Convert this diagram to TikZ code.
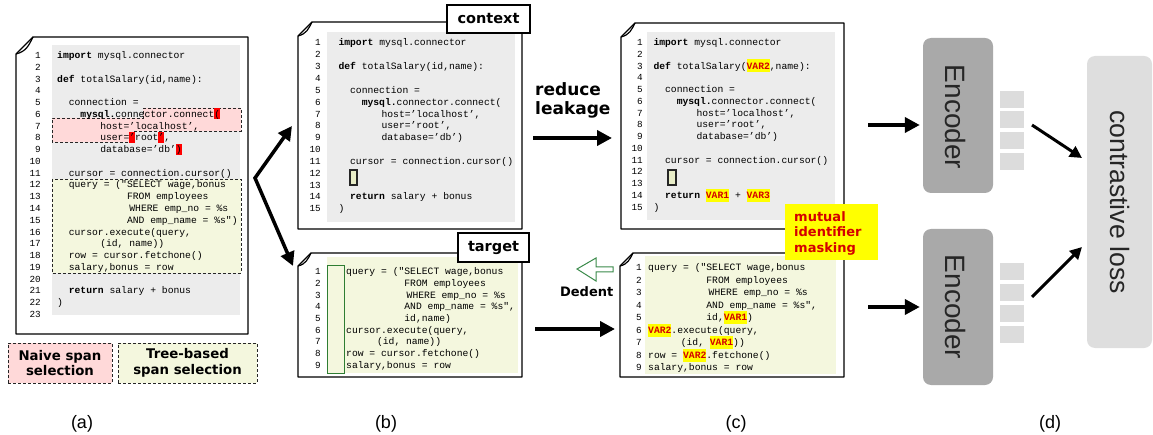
\documentclass[tikz,border=0pt]{standalone}
\usepackage{fontspec}
\usetikzlibrary{arrows.meta}
\newfontfamily\codefont{Liberation Mono}
\newfontfamily\dvs{DejaVu Sans}
\newfontfamily\lsans{Liberation Sans}
\definecolor{codebg}{HTML}{ECECEC}
\definecolor{naivefill}{HTML}{FFD9D9}
\definecolor{treefill}{HTML}{F4F7DE}
\definecolor{hired}{HTML}{FF0000}
\definecolor{hiyel}{HTML}{FFFF00}
\definecolor{varred}{HTML}{D40000}
\definecolor{greenline}{HTML}{2E7D32}
\definecolor{dedentgreen}{HTML}{3A8A4A}
\definecolor{encgray}{HTML}{A9A9A9}
\definecolor{enctxt}{HTML}{262626}
\definecolor{sqgray}{HTML}{DCDCDC}
\definecolor{lossgray}{HTML}{DEDEDE}
\definecolor{smallfill}{HTML}{E9EEC8}
\newcommand\hlr[1]{{\setlength{\fboxsep}{0pt}\colorbox{hired}{\rule[-2pt]{0pt}{11pt}#1}}}
\newcommand\hv[1]{{\setlength{\fboxsep}{0pt}\colorbox{hiyel}{\rule[-3.3pt]{0pt}{13pt}\textcolor{varred}{\bfseries #1}}}}
\newcommand\cw{5.82}
\newcommand\cl[3]{\node[code] (c\bname-#1) at ({\bx+#2*\cw},{\by+(#1-1)*\bdy}) {#3};}
\newcommand\docshape[5]{%
  \fill[white] ({#1+#5},#2) -- (#3,#2) -- (#3,#4) -- (#1,#4) -- (#1,{#2+#5}) -- cycle;
  \draw[docline] ({#1+#5},#2) -- (#3,#2) -- (#3,#4) -- (#1,#4) -- (#1,{#2+#5}) -- cycle;
  \draw[docline] (#1,{#2+#5}) .. controls ({#1+0.6*#5},{#2+0.85*#5}) and ({#1+0.75*#5},{#2+0.5*#5}) .. ({#1+#5},#2);}
\begin{document}
\begin{tikzpicture}[x=1pt,y=-1pt,
  docline/.style={line width=1.2pt, draw=black, line join=round},
  code/.style={anchor=base west, inner sep=0pt, font=\codefont\fontsize{9.7}{11}\selectfont},
  lnum/.style={anchor=base east, inner sep=0pt, font=\codefont\fontsize{9.3}{10}\selectfont},
  dashbox/.style={draw=black!85, line width=0.9pt, dash pattern=on 3pt off 2pt},
  legend/.style={dashbox, minimum height=40pt, inner sep=0pt, align=center,
    font=\dvs\bfseries\fontsize{13.3}{15.5}\selectfont},
  tagbox/.style={draw=black, fill=white, line width=1.2pt, inner sep=0pt,
    font=\dvs\bfseries\fontsize{14.5}{16}\selectfont},
  boldlab/.style={inner sep=0pt, font=\dvs\bfseries\fontsize{13}{15.5}\selectfont},
  bigarrow/.style={line width=3.8pt, -{Triangle[length=15pt,width=15pt]}},
  midarrow/.style={line width=3pt, -{Triangle[length=12pt,width=12pt]}},
  encbox/.style={fill=encgray, rounded corners=8pt, minimum width=70pt, inner sep=0pt},
  enctext/.style={text=enctxt, inner sep=0pt, font=\lsans\fontsize{28}{30}\selectfont},
  sq/.style={fill=sqgray, minimum width=24pt, minimum height=17pt, inner sep=0pt},
  panel/.style={inner sep=0pt, anchor=base, font=\lsans\fontsize{18}{20}\selectfont}
]
\useasboundingbox (0,0) rectangle (1153,435);

% ================= (a) =================
\docshape{16}{37}{248}{334}{17}
\fill[codebg] (52,45) rectangle (240,315);
\fill[naivefill] (143,108) -- (241,108) -- (241,131) -- (134,131) -- (134,142) -- (52,142) -- (52,118) -- (143,118) -- cycle;
\draw[dashbox] (143,108) -- (241,108) -- (241,131) -- (134,131) -- (134,142) -- (52,142) -- (52,118) -- (143,118) -- cycle;
\fill[treefill] (52,179) rectangle (241,273);
\draw[dashbox] (52,179) rectangle (241,273);
\def\bname{a}\def\bx{57}\def\by{58.5}\def\bdy{11.77}
\foreach \i in {1,...,23} {\node[lnum] (na-\i) at (41,{58.5+(\i-1)*11.77}) {\i};}
\cl{1}{0}{\textbf{import} mysql.connector}
\cl{3}{0}{\textbf{def} totalSalary(id,name):}
\cl{5}{2}{connection =}
\cl{6}{4}{\textbf{mysql.}connector.connect\hlr{(}}
\cl{7}{7.4}{host=’localhost’,}
\cl{8}{7.4}{user=\hlr{’}root\hlr{’},}
\cl{9}{7.4}{database=’db’\hlr{)}}
\cl{11}{2}{cursor = connection.cursor()}
\cl{12}{2}{query = ("SELECT wage,bonus}
\cl{13}{12}{FROM employees}
\cl{14}{12.4}{WHERE emp\_no = \%s}
\cl{15}{12}{AND emp\_name = \%s")}
\cl{16}{2}{cursor.execute(query,}
\cl{17}{7.4}{(id, name))}
\cl{18}{2}{row = cursor.fetchone()}
\cl{19}{2}{salary,bonus = row}
\cl{21}{2}{\textbf{return} salary + bonus}
\cl{22}{0}{)}

\node[legend, fill=naivefill, minimum width=104pt] (leg1) at (60,363) {Naive span\\selection};
\node[legend, fill=treefill, minimum width=139pt] (leg2) at (187.5,363) {Tree-based\\span selection};

% ================= (b) context =================
\docshape{298}{22}{522}{229}{14}
\fill[codebg] (327,32) rectangle (515,222);
\def\bname{b}\def\bx{338.3}\def\by{46}\def\bdy{11.84}
\foreach \i in {1,...,15} {\node[lnum] (nb-\i) at (321,{46+(\i-1)*11.84}) {\i};}
\cl{1}{0}{\textbf{import} mysql.connector}
\cl{3}{0}{\textbf{def} totalSalary(id,name):}
\cl{5}{2}{connection =}
\cl{6}{4}{\textbf{mysql.}connector.connect(}
\cl{7}{7.4}{host=’localhost’,}
\cl{8}{7.4}{user=’root’,}
\cl{9}{7.4}{database=’db’)}
\cl{11}{2}{cursor = connection.cursor()}
\cl{14}{2}{\textbf{return} salary + bonus}
\cl{15}{0}{)}
\draw[fill=smallfill, draw=black!85, line width=1.1pt] (350,170) rectangle (357,185);
\node[tagbox, minimum width=83pt, minimum height=28pt] (ctxlab) at (488.5,19) {context};

% ================= (b) target =================
\docshape{298}{253}{522}{377}{13}
\fill[treefill] (327,257) rectangle (518,373);
\draw[greenline, line width=1pt] (327,266) rectangle (344,373);
\def\bname{t}\def\bx{346}\def\by{275}\def\bdy{11.63}
\foreach \i in {1,...,9} {\node[lnum] (nt-\i) at (321,{275+(\i-1)*11.63}) {\i};}
\cl{1}{0}{query = ("SELECT wage,bonus}
\cl{2}{10}{FROM employees}
\cl{3}{10.4}{WHERE emp\_no = \%s}
\cl{4}{10}{AND emp\_name = \%s",}
\cl{5}{10}{id,name)}
\cl{6}{0}{cursor.execute(query,}
\cl{7}{5.3}{(id, name))}
\cl{8}{0}{row = cursor.fetchone()}
\cl{9}{0}{salary,bonus = row}
\node[tagbox, minimum width=71pt, minimum height=29pt] (tgtlab) at (493.5,247.5) {target};

% fork arrows (a) -> (b)
\coordinate (fork) at (255,178);
\coordinate (ctxin) at (292,126);
\coordinate (tgtin) at (293,266);
\draw[line width=3.5pt, line join=miter, {Triangle[length=14pt,width=14pt]}-{Triangle[length=14pt,width=14pt]}] (ctxin) -- (fork) -- (tgtin);

% ================= (c) top =================
\docshape{621}{23}{844}{229}{14}
\fill[codebg] (647,32) rectangle (835,220);
\def\bname{c}\def\bx{653.3}\def\by{45.7}\def\bdy{11.74}
\foreach \i in {1,...,15} {\node[lnum] (nc-\i) at (643,{45.7+(\i-1)*11.74}) {\i};}
\cl{1}{0}{\textbf{import} mysql.connector}
\cl{3}{0}{\textbf{def} totalSalary(\hv{VAR2},name):}
\cl{5}{2}{connection =}
\cl{6}{4}{\textbf{mysql.}connector.connect(}
\cl{7}{7.4}{host=’localhost’,}
\cl{8}{7.4}{user=’root’,}
\cl{9}{7.4}{database=’db’)}
\cl{11}{2}{cursor = connection.cursor()}
\cl{14}{2}{\textbf{return} \hv{VAR1} + \hv{VAR3}}
\cl{15}{0}{)}
\draw[fill=smallfill, draw=black!85, line width=1.1pt] (668,170) rectangle (676,185);

% ================= (c) bottom =================
\docshape{620}{253}{844}{377}{13}
\fill[treefill] (645,256) rectangle (836,374);
\def\bname{d}\def\bx{648}\def\by{271}\def\bdy{12.46}
\foreach \i in {1,...,9} {\node[lnum] (nd-\i) at (642,{271+(\i-1)*12.46}) {\i};}
\cl{1}{0}{query = ("SELECT wage,bonus}
\cl{2}{10}{FROM employees}
\cl{3}{10.4}{WHERE emp\_no = \%s}
\cl{4}{10}{AND emp\_name = \%s",}
\cl{5}{10}{id,\hv{VAR1})}
\cl{6}{0}{\hv{VAR2}.execute(query,}
\cl{7}{5.6}{(id, \hv{VAR1}))}
\cl{8}{0}{row = \hv{VAR2}.fetchone()}
\cl{9}{0}{salary,bonus = row}

% mutual identifier masking
\fill[hiyel] (785,204) rectangle (878,260);
\node[boldlab, text=varred, anchor=west, align=left] (mask) at (794,233) {mutual\\identifier\\masking};

% reduce leakage
\node[inner sep=0pt, anchor=base west, font=\dvs\bfseries\fontsize{17}{19.3}\selectfont] (rl) at (535,95.7) {reduce};
\node[inner sep=0pt, anchor=base west, font=\dvs\bfseries\fontsize{17}{19.3}\selectfont] (rl2) at (535,115) {leakage};
\coordinate (rla) at (533,138);
\coordinate (rlb) at (612,138);
\draw[bigarrow] (rla) -- (rlb);

% dedent
\draw[dedentgreen, line width=1pt, fill=white] (577,269) -- (596,258) -- (596,267) -- (613,267) -- (613,272) -- (596,272) -- (596,281) -- cycle;
\node[boldlab, anchor=base] (dedent) at (586.7,296.7) {Dedent};
\coordinate (tca) at (535,329);
\coordinate (tcb) at (615,329);
\draw[bigarrow] (tca) -- (tcb);

% ================= (d) =================
\node[encbox, minimum height=155pt] (enc1) at (958,115.5) {};
\node[encbox, minimum height=156pt] (enc2) at (958,307) {};
\node[enctext, rotate=-90] (enc1t) at (955,117) {Encoder};
\node[enctext, rotate=-90] (enc2t) at (955,307) {Encoder};
\coordinate (c1out) at (868,125);
\coordinate (c2out) at (868,307);
\draw[bigarrow, shorten >=3pt] (c1out) -- (c1out -| enc1.west);
\draw[bigarrow, shorten >=3pt] (c2out) -- (c2out -| enc2.west);
\foreach \k/\yy in {1/99.2, 2/120, 3/140.7, 4/161.3} {\node[sq] (sqa\k) at (1012,\yy) {};}
\foreach \k/\yy in {1/271.7, 2/292.3, 3/313.3, 4/334.2} {\node[sq] (sqb\k) at (1012,\yy) {};}
\node[fill=lossgray, rounded corners=8pt, minimum width=65pt, minimum height=292pt, inner sep=0pt] (loss) at (1119.5,202) {};
\node[enctext, rotate=-90, font=\lsans\fontsize{26.6}{28}\selectfont] (losst) at (1120,202) {contrastive loss};
\coordinate (s1) at (1032,125);
\coordinate (l1) at (1082,158);
\coordinate (s2) at (1032,297);
\coordinate (l2) at (1082,247);
\draw[midarrow] (s1) -- (l1);
\draw[midarrow] (s2) -- (l2);

% panel labels
\node[panel] (pa) at (82,428) {(a)};
\node[panel] (pb) at (386,428) {(b)};
\node[panel] (pc) at (736,428) {(c)};
\node[panel] (pd) at (1050,428) {(d)};
\end{tikzpicture}
\end{document}
